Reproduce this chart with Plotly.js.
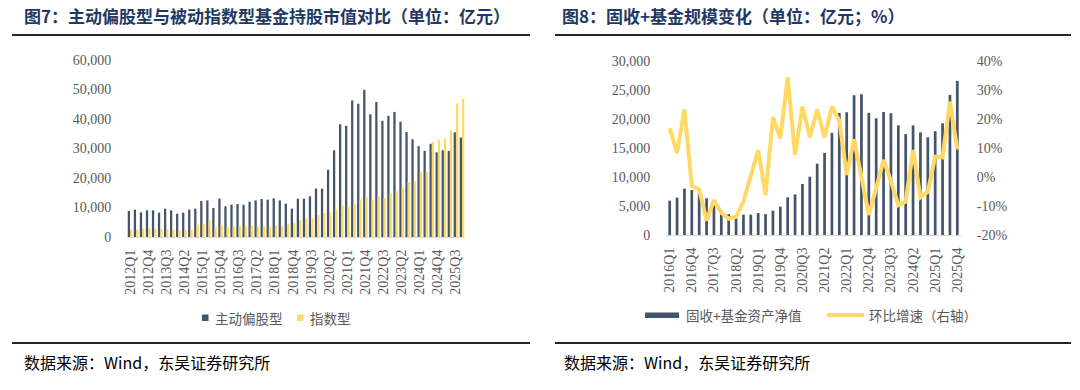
<!DOCTYPE html>
<html>
<head>
<meta charset="utf-8">
<script src="https://cdn.plot.ly/plotly-3.0.1.min.js"></script>
<style>
  html,body{margin:0;padding:0;background:#fff;}
  #chart{width:1080px;height:390px;}
</style>
</head>
<body>
<div id="chart"></div>
<script>
// ---------- Data: Figure 7 ----------
const quartersLeft = [
  "2012Q1","2012Q2","2012Q3","2012Q4","2013Q1","2013Q2","2013Q3","2013Q4",
  "2014Q1","2014Q2","2014Q3","2014Q4","2015Q1","2015Q2","2015Q3","2015Q4",
  "2016Q1","2016Q2","2016Q3","2016Q4","2017Q1","2017Q2","2017Q3","2017Q4",
  "2018Q1","2018Q2","2018Q3","2018Q4","2019Q1","2019Q2","2019Q3","2019Q4",
  "2020Q1","2020Q2","2020Q3","2020Q4","2021Q1","2021Q2","2021Q3","2021Q4",
  "2022Q1","2022Q2","2022Q3","2022Q4","2023Q1","2023Q2","2023Q3","2023Q4",
  "2024Q1","2024Q2","2024Q3","2024Q4","2025Q1","2025Q2","2025Q3","2025Q4"
];
const activeEquity = [
  8800, 9270, 8360, 9040, 9040, 8250, 9600, 9040, 7900, 8250, 9270, 9600,
  12200, 12400, 9830, 13000, 10400, 10960, 11190, 10960, 11980, 12400, 12880, 12660,
  13100, 12400, 11300, 9600, 13000, 13000, 13800, 16400, 16400, 22800, 29400, 38200,
  37700, 46300, 45200, 49900, 41600, 45800, 39400, 41100, 42400, 39100, 35600, 33100,
  30800, 29200, 31600, 28700, 29400, 29200, 35500, 33700
];
const indexFunds = [
  2500, 2500, 2800, 2900, 2800, 2700, 2700, 2500, 2000, 2260, 2500, 4200,
  4500, 5650, 3200, 4100, 3400, 3400, 3840, 3840, 3840, 3600, 3600, 3600,
  3840, 3600, 4300, 4750, 5650, 6300, 6300, 7460, 8100, 8360, 9270, 10700,
  10400, 11300, 12650, 13800, 12650, 13800, 13200, 14700, 15500, 16700, 18600, 18900,
  21900, 22100, 32300, 33000, 33300, 36200, 45300, 46900
];
const tickLabelsLeft = [
  "2012Q1","2012Q4","2013Q3","2014Q2","2015Q1","2015Q4","2016Q3","2017Q2",
  "2018Q1","2018Q4","2019Q3","2020Q2","2021Q1","2021Q4","2022Q3","2023Q2",
  "2024Q1","2024Q4","2025Q3"
];
const yTicksLeft = [0, 10000, 20000, 30000, 40000, 50000, 60000];

// ---------- Data: Figure 8 ----------
const quartersRight = [
  "2016Q1","2016Q2","2016Q3","2016Q4","2017Q1","2017Q2","2017Q3","2017Q4",
  "2018Q1","2018Q2","2018Q3","2018Q4","2019Q1","2019Q2","2019Q3","2019Q4",
  "2020Q1","2020Q2","2020Q3","2020Q4","2021Q1","2021Q2","2021Q3","2021Q4",
  "2022Q1","2022Q2","2022Q3","2022Q4","2023Q1","2023Q2","2023Q3","2023Q4",
  "2024Q1","2024Q2","2024Q3","2024Q4","2025Q1","2025Q2","2025Q3","2025Q4"
];
const fixedIncomePlusNAV = [
  5920, 6440, 7990, 7760, 7190, 6330, 5060, 4200, 3600, 3300,
  3500, 3500, 3780, 3600, 4200, 4890, 6500, 7000, 8800, 10060,
  12300, 14150, 17600, 21050, 21160, 24100, 24270, 21050, 20130, 21200,
  21000, 18900, 17400, 18900, 17700, 16850, 17900, 19260, 24150, 26570
];
const qoqGrowth = [
  16.8, 8.2, 23.3, -3.1, -4.3, -15.0, -8.0, -12.3, -14.4, -13.7,
  -8.5, 0.1, 9.3, -6.2, 20.6, 13.3, 34.4, 7.6, 24.3, 13.7,
  23.3, 13.7, 24.3, 19.4, 0.7, 13.0, 0.1, -13.1, -3.9, 5.9,
  -1.3, -9.7, -8.5, 9.3, -7.0, -5.1, 7.0, 6.8, 26.0, 9.5
];
const tickLabelsRight = [
  "2016Q1","2016Q4","2017Q3","2018Q2","2019Q1","2019Q4","2020Q3","2021Q2",
  "2022Q1","2022Q4","2023Q3","2024Q2","2025Q1","2025Q4"
];
const yTicksRightLeft = [0, 5000, 10000, 15000, 20000, 25000, 30000];
const yTicksRightRight = [-20, -10, 0, 10, 20, 30, 40];
const yTickTextRightRight = ["-20%", "-10%", "0%", "10%", "20%", "30%", "40%"];

// ---------- Styling ----------
const W = 1080, H = 390;
const X = v => v / W;
const Y = v => 1 - v / H;
const NAVY = '#44546A';
const GOLD = '#FFD966';
const numFont = {family: 'Liberation Serif, Times New Roman, serif', size: 14, color: '#595959'};
const cjk = 'Noto Sans CJK SC, sans-serif';

const traces = [
  {type: 'bar', x: quartersLeft, y: activeEquity, name: '主动偏股型',
   marker: {color: NAVY}, xaxis: 'x', yaxis: 'y', hoverinfo: 'x+y'},
  {type: 'bar', x: quartersLeft, y: indexFunds, name: '指数型',
   marker: {color: GOLD}, xaxis: 'x', yaxis: 'y', hoverinfo: 'x+y'},
  {type: 'bar', x: quartersRight, y: fixedIncomePlusNAV, name: '固收+基金资产净值',
   marker: {color: NAVY}, width: 0.37, xaxis: 'x2', yaxis: 'y2', hoverinfo: 'x+y'},
  {type: 'scatter', mode: 'lines', x: quartersRight, y: qoqGrowth, name: '环比增速（右轴）',
   line: {color: GOLD, width: 4}, xaxis: 'x2', yaxis: 'y3', hoverinfo: 'x+y'}
];

const xCommon = {
  type: 'category', tickmode: 'array', tickangle: -90,
  showline: true, linecolor: '#D9D9D9', linewidth: 1,
  ticks: 'outside', ticklen: 6, tickcolor: 'rgba(0,0,0,0)',
  showgrid: false, zeroline: false, tickfont: numFont, fixedrange: true
};
const yCommon = {
  showgrid: false, zeroline: false, showline: false,
  ticks: 'outside', ticklen: 12, tickcolor: 'rgba(0,0,0,0)',
  tickfont: numFont, fixedrange: true
};

const layout = {
  width: W, height: H,
  margin: {l: 0, r: 0, t: 0, b: 0},
  paper_bgcolor: '#FFFFFF', plot_bgcolor: 'rgba(0,0,0,0)',
  showlegend: false,
  barmode: 'group', bargap: 0.25, bargroupgap: 0,
  xaxis: Object.assign({}, xCommon, {domain: [X(127), X(465)], anchor: 'y',
    tickvals: tickLabelsLeft, ticktext: tickLabelsLeft}),
  yaxis: Object.assign({}, yCommon, {domain: [Y(237), Y(60)], anchor: 'x',
    range: [0, 60000], tickmode: 'array', tickvals: yTicksLeft, tickformat: ','}),
  xaxis2: Object.assign({}, xCommon, {domain: [X(666), X(961)], anchor: 'y2',
    tickvals: tickLabelsRight, ticktext: tickLabelsRight}),
  yaxis2: Object.assign({}, yCommon, {domain: [Y(235), Y(61)], anchor: 'x2',
    range: [0, 30000], tickmode: 'array', tickvals: yTicksRightLeft, tickformat: ','}),
  yaxis3: Object.assign({}, yCommon, {overlaying: 'y2', side: 'right', anchor: 'x2',
    range: [-20, 40], tickmode: 'array', tickvals: yTicksRightRight, ticktext: yTickTextRightRight}),
  shapes: [
    {type: 'line', xref: 'paper', yref: 'paper', x0: X(12), x1: X(530), y0: Y(35), y1: Y(35), line: {color: '#262626', width: 2}},
    {type: 'line', xref: 'paper', yref: 'paper', x0: X(555), x1: X(1071), y0: Y(35), y1: Y(35), line: {color: '#262626', width: 2}},
    {type: 'line', xref: 'paper', yref: 'paper', x0: X(12), x1: X(530), y0: Y(343), y1: Y(343), line: {color: '#262626', width: 2}},
    {type: 'line', xref: 'paper', yref: 'paper', x0: X(555), x1: X(1071), y0: Y(343), y1: Y(343), line: {color: '#262626', width: 2}},
    {type: 'rect', xref: 'paper', yref: 'paper', x0: X(202), x1: X(208.5), y0: Y(321), y1: Y(314.5), line: {width: 0}, fillcolor: NAVY},
    {type: 'rect', xref: 'paper', yref: 'paper', x0: X(297), x1: X(303.5), y0: Y(321), y1: Y(314.5), line: {width: 0}, fillcolor: GOLD},
    {type: 'rect', xref: 'paper', yref: 'paper', x0: X(645), x1: X(679), y0: Y(318), y1: Y(312.5), line: {width: 0}, fillcolor: NAVY},
    {type: 'line', xref: 'paper', yref: 'paper', x0: X(827), x1: X(864), y0: Y(315), y1: Y(315), line: {color: GOLD, width: 4}}
  ],
  annotations: [
    {xref: 'paper', yref: 'paper', x: X(22), y: Y(16), xanchor: 'left', yanchor: 'middle', showarrow: false,
     text: '<b>图7：主动偏股型与被动指数型基金持股市值对比（单位：亿元）</b>',
     font: {family: cjk, size: 17, color: '#1F3864'}},
    {xref: 'paper', yref: 'paper', x: X(560), y: Y(16), xanchor: 'left', yanchor: 'middle', showarrow: false,
     text: '<b>图8：固收+基金规模变化（单位：亿元；%）</b>',
     font: {family: cjk, size: 17, color: '#1F3864'}},
    {xref: 'paper', yref: 'paper', x: X(213), y: Y(318), xanchor: 'left', yanchor: 'middle', showarrow: false,
     text: '主动偏股型', font: {family: cjk, size: 13.5, color: '#595959'}},
    {xref: 'paper', yref: 'paper', x: X(308), y: Y(318), xanchor: 'left', yanchor: 'middle', showarrow: false,
     text: '指数型', font: {family: cjk, size: 13.5, color: '#595959'}},
    {xref: 'paper', yref: 'paper', x: X(684), y: Y(315), xanchor: 'left', yanchor: 'middle', showarrow: false,
     text: '固收+基金资产净值', font: {family: cjk, size: 13.5, color: '#595959'}},
    {xref: 'paper', yref: 'paper', x: X(867), y: Y(315), xanchor: 'left', yanchor: 'middle', showarrow: false,
     text: '环比增速（右轴）', font: {family: cjk, size: 13.5, color: '#595959'}},
    {xref: 'paper', yref: 'paper', x: X(22), y: Y(362), xanchor: 'left', yanchor: 'middle', showarrow: false,
     text: '数据来源：Wind，东吴证券研究所', font: {family: cjk, size: 16, color: '#000000'}},
    {xref: 'paper', yref: 'paper', x: X(562), y: Y(362), xanchor: 'left', yanchor: 'middle', showarrow: false,
     text: '数据来源：Wind，东吴证券研究所', font: {family: cjk, size: 16, color: '#000000'}}
  ]
};

Plotly.newPlot('chart', traces, layout, {displayModeBar: false, staticPlot: true});
</script>
</body>
</html>
